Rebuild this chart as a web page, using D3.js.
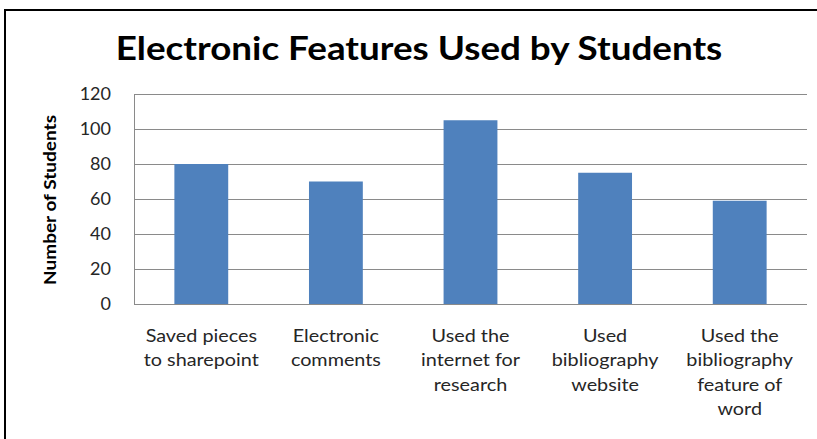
<!DOCTYPE html>
<html>
<head>
<meta charset="utf-8">
<script src="https://cdn.jsdelivr.net/npm/d3@7"></script>
<style>
  html, body { margin: 0; padding: 0; background: #fff; overflow: hidden; }
  svg { display: block; }
  text { font-family: Lato, "Open Sans", sans-serif; }
</style>
</head>
<body>
<script>
// Survey results: how many students used each electronic feature
const categories = [
  ["Saved pieces", "to sharepoint"],
  ["Electronic", "comments"],
  ["Used the", "internet for", "research"],
  ["Used", "bibliography", "website"],
  ["Used the", "bibliography", "feature of", "word"]
];
const counts = [80, 70, 105, 75, 59];
const yTicks = [0, 20, 40, 60, 80, 100, 120];
const chartTitle = "Electronic Features Used by Students";
const yTitle = "Number of Students";

const W = 817, H = 439;
const plot = { left: 134, right: 807, top: 94, bottom: 304 };
const textStretch = 1.1; // the chart's lettering is set slightly wide

const svg = d3.select("body").append("svg")
  .attr("width", W).attr("height", H);

// outer chart frame (runs off the right and bottom edges)
svg.append("rect")
  .attr("x", 5).attr("y", 10)
  .attr("width", W + 20).attr("height", H + 20)
  .attr("fill", "none").attr("stroke", "#000").attr("stroke-width", 2);

svg.append("text")
  .attr("transform", `translate(419,60) scale(${textStretch + 0.05},1)`)
  .attr("text-anchor", "middle")
  .attr("font-weight", "bold")
  .attr("font-size", 32)
  .attr("fill", "#000")
  .text(chartTitle);

const x = d3.scaleBand()
  .domain(d3.range(categories.length))
  .range([plot.left, plot.right])
  .paddingInner(0.6).paddingOuter(0.3);

const y = d3.scaleLinear()
  .domain([0, 120])
  .range([plot.bottom, plot.top]);

// horizontal gridlines
svg.append("g")
  .selectAll("line")
  .data(yTicks)
  .join("line")
  .attr("x1", plot.left).attr("x2", plot.right)
  .attr("y1", d => y(d) + 0.5).attr("y2", d => y(d) + 0.5)
  .attr("stroke", "#8a8a8a").attr("stroke-width", 1);

// left edge of plot area
svg.append("line")
  .attr("x1", plot.left + 0.5).attr("x2", plot.left + 0.5)
  .attr("y1", plot.top).attr("y2", plot.bottom + 1)
  .attr("stroke", "#8a8a8a");

// y axis tick labels
const yAxis = d3.axisLeft(y).tickValues(yTicks).tickSize(0).tickPadding(23);
const gy = svg.append("g").attr("transform", `translate(${plot.left},0)`).call(yAxis);
gy.select(".domain").remove();
gy.selectAll("text")
  .attr("font-family", "Lato, sans-serif")
  .attr("font-size", 18)
  .attr("fill", "#262626");

// bars
svg.append("g")
  .selectAll("rect")
  .data(counts)
  .join("rect")
  .attr("x", (d, i) => x(i))
  .attr("width", x.bandwidth())
  .attr("y", d => y(d))
  .attr("height", d => y(0) - y(d))
  .attr("fill", "#4f81bd");

// category labels, wrapped over several lines
const labels = svg.append("g")
  .selectAll("text")
  .data(categories)
  .join("text")
  .attr("text-anchor", "middle")
  .attr("font-size", 18)
  .attr("fill", "#262626")
  .attr("transform", (d, i) =>
    `translate(${x(i) + x.bandwidth() / 2},342) scale(${textStretch},1)`);
labels.selectAll("tspan")
  .data(d => d)
  .join("tspan")
  .attr("x", 0)
  .attr("y", (d, j) => j * 24.5)
  .text(d => d);

// y axis title
svg.append("text")
  .attr("transform", "translate(56,200) rotate(-90) scale(1.12,1)")
  .attr("text-anchor", "middle")
  .attr("font-weight", "bold")
  .attr("font-size", 17)
  .attr("fill", "#000")
  .text(yTitle);
</script>
</body>
</html>
